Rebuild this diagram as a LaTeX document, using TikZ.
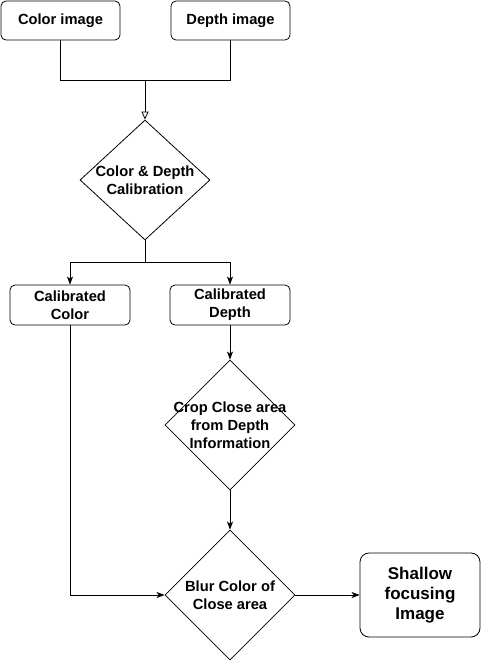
\documentclass[tikz,border=0pt]{standalone}
\usepackage{fontspec}
\setmainfont{Liberation Sans}
\usetikzlibrary{shapes.geometric,arrows.meta}
\begin{document}
\begin{tikzpicture}[x=1pt,y=-1pt,
  box/.style={draw,rounded corners=5pt,line width=0.8pt,inner sep=0pt,align=center,font=\fontsize{14.7}{18}\selectfont\bfseries},
  diam/.style={draw,diamond,line width=0.8pt,inner sep=0pt,minimum width=130pt,minimum height=130pt},
  dtext/.style={align=center,font=\fontsize{14.7}{18}\selectfont\bfseries},
  conn/.style={line width=0.8pt},
  arr/.style={conn,-{Stealth[length=8pt,width=6pt,inset=2pt]}}
]
\useasboundingbox (0,0) rectangle (481,661);
\node[box,minimum width=119pt,minimum height=39pt] (ci) at (60.5,20.5) {Color image};
\node[box,minimum width=119pt,minimum height=39pt] (di) at (230.5,20.5) {Depth image};
\node[diam,minimum height=120pt] (d1) at (145,180) {};
\node[dtext] at (d1) {Color \& Depth\\Calibration};
\node[box,minimum width=120pt,minimum height=40pt] (cc) at (70,305) {Calibrated\\Color};
\node[box,minimum width=120pt,minimum height=40pt] (cd) at (230,305) {Calibrated\\Depth};
\node[diam] (d2) at (230,425) {};
\node[dtext] at (d2) {Crop Close area\\from Depth\\Information};
\node[diam] (d3) at (230,595) {};
\node[dtext] at (d3) {Blur Color of\\Close area};
\node[box,rounded corners=9pt,minimum width=120pt,minimum height=84pt,font=\fontsize{17}{20}\selectfont\bfseries] (sh) at (420,595) {Shallow\\focusing\\Image};
\coordinate (j1) at (145,80);
\coordinate (j2) at (145,262);
\draw[conn] (ci.south) |- (j1);
\draw[conn] (di.south) |- (j1);
\draw[conn,-{Triangle[open,length=8pt,width=7pt]}] (j1) -- (d1.north);
\draw[conn] (d1.south) -- (j2);
\draw[arr] (j2) -| (cc.north);
\draw[arr] (j2) -| (cd.north);
\draw[arr] (cd.south) -- (d2.north);
\draw[arr] (d2.south) -- (d3.north);
\draw[arr] (cc.south) |- (d3.west);
\draw[arr] (d3.east) -- (sh.west);
\end{tikzpicture}
\end{document}
